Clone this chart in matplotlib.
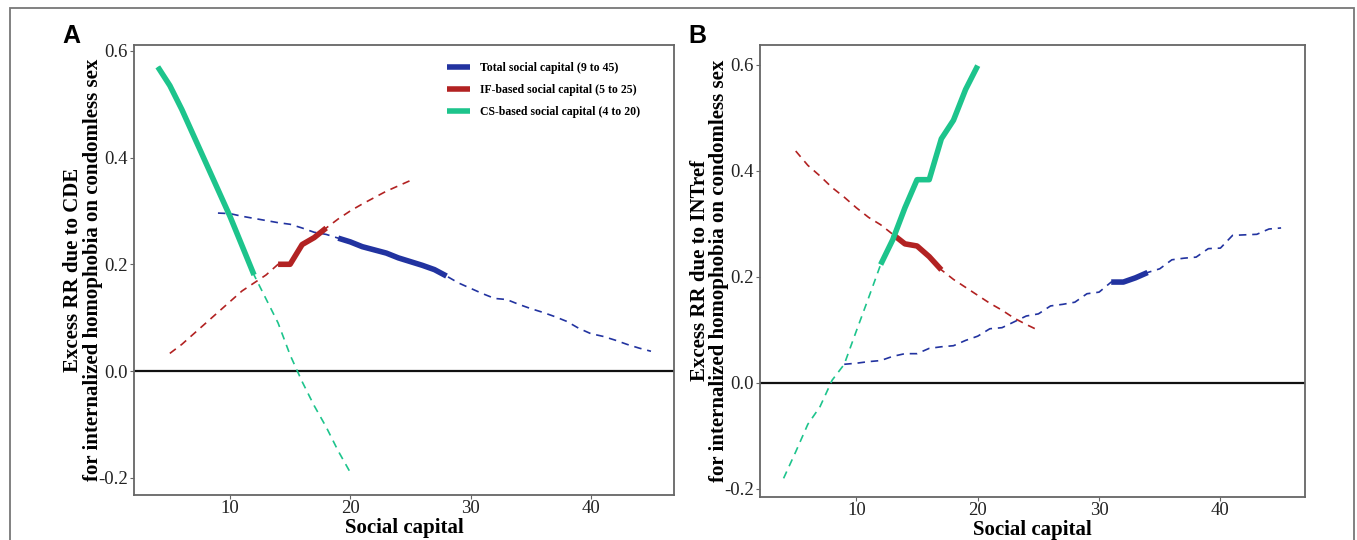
"""Excess RR due to CDE / INTref across social capital scores (panels A and B)."""

import matplotlib.pyplot as plt
from matplotlib.patches import Rectangle

# Panel A: excess RR due to CDE
A_TOTAL_X = list(range(9, 46))
A_TOTAL_Y = [0.296, 0.295, 0.290, 0.286, 0.282, 0.278, 0.275, 0.268, 0.260, 0.256,
             0.249, 0.242, 0.233, 0.227, 0.221, 0.212, 0.205, 0.198, 0.190, 0.178,
             0.165, 0.155, 0.145, 0.136, 0.134, 0.125, 0.117, 0.110, 0.102, 0.093,
             0.080, 0.070, 0.065, 0.058, 0.050, 0.043, 0.037]
A_IF_X = list(range(5, 26))
A_IF_Y = [0.033, 0.050, 0.070, 0.090, 0.110, 0.130, 0.150, 0.165, 0.180, 0.200,
          0.200, 0.237, 0.250, 0.268, 0.285, 0.300, 0.313, 0.325, 0.337, 0.347, 0.357]
A_CS_X = list(range(4, 21))
A_CS_Y = [0.570, 0.535, 0.490, 0.440, 0.390, 0.340, 0.290, 0.235, 0.180,
          0.135, 0.090, 0.030, -0.020, -0.065, -0.105, -0.150, -0.190]

# Panel B: excess RR due to INTref
B_TOTAL_X = list(range(9, 46))
B_TOTAL_Y = [0.035, 0.037, 0.040, 0.042, 0.050, 0.055, 0.055, 0.065, 0.068, 0.070,
             0.080, 0.088, 0.102, 0.104, 0.115, 0.126, 0.130, 0.145, 0.148, 0.152,
             0.168, 0.171, 0.190, 0.190, 0.198, 0.208, 0.215, 0.232, 0.235, 0.237,
             0.253, 0.254, 0.278, 0.279, 0.280, 0.290, 0.292]
B_IF_X = list(range(5, 26))
B_IF_Y = [0.437, 0.410, 0.390, 0.368, 0.350, 0.330, 0.312, 0.298, 0.280, 0.262,
          0.258, 0.238, 0.213, 0.195, 0.180, 0.165, 0.150, 0.137, 0.122, 0.110, 0.099]
B_CS_X = list(range(4, 21))
B_CS_Y = [-0.180, -0.130, -0.078, -0.045, 0.005, 0.035, 0.098, 0.160, 0.223,
          0.270, 0.330, 0.383, 0.383, 0.460, 0.495, 0.553, 0.598]

# solid (significant) ranges of each series
A_SOLID = {"total": (19, 28), "if": (14, 18), "cs": (4, 12)}
B_SOLID = {"total": (31, 34), "if": (13, 17), "cs": (12, 20)}

LEGEND_LABELS = {
    "total": "Total social capital (9 to 45)",
    "if": "IF-based social capital (5 to 25)",
    "cs": "CS-based social capital (4 to 20)",
}
COLORS = {"total": "#2233A0", "if": "#B22222", "cs": "#1DC48C"}
SERIF = "Liberation Serif"


def draw_series(ax, xs, ys, key, solid_range):
    """Dashed line over the full range, thick solid over the significant range."""
    color = COLORS[key]
    ax.plot(xs, ys, color=color, lw=1.2, ls=(0, (4.5, 3.5)), zorder=2)
    lo, hi = solid_range
    sx = [x for x in xs if lo <= x <= hi]
    sy = [y for x, y in zip(xs, ys) if lo <= x <= hi]
    ax.plot(sx, sy, color=color, lw=4.0, solid_capstyle="butt", zorder=3,
            label=LEGEND_LABELS[key])


def style_axes(ax, ylabel, ylim, ylabelpad):
    ax.set_xlim(2.05, 46.95)
    ax.set_ylim(*ylim)
    ax.axhline(0, color="#111111", lw=1.6, zorder=1)
    ax.set_xticks([10, 20, 30, 40])
    ax.set_yticks([-0.2, 0.0, 0.2, 0.4, 0.6])
    ax.set_yticklabels(["-0.2", "0.0", "0.2", "0.4", "0.6"])
    for side in ax.spines.values():
        side.set_color("#666666")
        side.set_linewidth(1.3)
    ax.tick_params(axis="both", direction="out", length=3, width=0.8, color="#666666",
                   labelsize=13.5, pad=1.5)
    ax.tick_params(axis="x", pad=0.5)
    for lab in ax.get_xticklabels() + ax.get_yticklabels():
        lab.set_fontfamily(SERIF)
        lab.set_color("#222222")
    ax.set_xlabel("Social capital", fontfamily=SERIF, fontweight="bold", fontsize=15,
                  labelpad=1)
    ax.set_ylabel(ylabel, fontfamily=SERIF, fontweight="bold", fontsize=15,
                  linespacing=0.95, labelpad=ylabelpad)


def main():
    fig = plt.figure(figsize=(13.57, 5.4), dpi=100)
    fig.patches.append(Rectangle((10 / 1357, -0.05), 1344 / 1357, 1.05 - 8 / 540,
                                 transform=fig.transFigure, fill=False,
                                 edgecolor="#777777", lw=1.3))

    ax_a = fig.add_axes([0.099, 0.0837, 0.398, 0.833])
    draw_series(ax_a, A_TOTAL_X, A_TOTAL_Y, "total", A_SOLID["total"])
    draw_series(ax_a, A_IF_X, A_IF_Y, "if", A_SOLID["if"])
    draw_series(ax_a, A_CS_X, A_CS_Y, "cs", A_SOLID["cs"])
    style_axes(ax_a, "Excess RR due to CDE\nfor internalized homophobia on condomless sex",
               (-0.232, 0.611), -3)
    ax_a.legend(loc="upper left", bbox_to_anchor=((447 - 134) / 540.5, 0.962),
                frameon=False, borderpad=0, borderaxespad=0,
                handlelength=1.9, handletextpad=0.9, labelspacing=0.85,
                prop={"family": SERIF, "weight": "bold", "size": 8.5})

    ax_b = fig.add_axes([0.560, 0.0798, 0.4015, 0.837])
    draw_series(ax_b, B_TOTAL_X, B_TOTAL_Y, "total", B_SOLID["total"])
    draw_series(ax_b, B_IF_X, B_IF_Y, "if", B_SOLID["if"])
    draw_series(ax_b, B_CS_X, B_CS_Y, "cs", B_SOLID["cs"])
    style_axes(ax_b, "Excess RR due to INTref\nfor internalized homophobia on condomless sex",
               (-0.215, 0.637), -4)

    fig.text(62 / 1357, 1 - 36 / 540, "A", fontfamily="Liberation Sans", fontweight="bold",
             fontsize=18, ha="left", va="center")
    fig.text(688 / 1357, 1 - 36 / 540, "B", fontfamily="Liberation Sans", fontweight="bold",
             fontsize=18, ha="left", va="center")

    fig.savefig("out.png", dpi=100)
    plt.close(fig)


if __name__ == "__main__":
    main()
